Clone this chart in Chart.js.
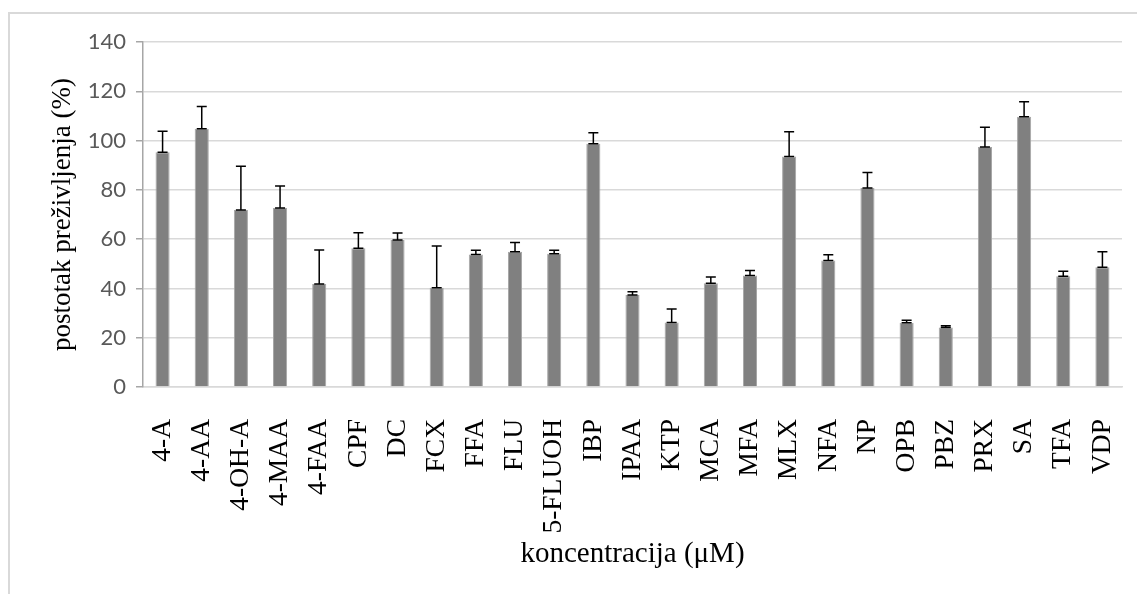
<!DOCTYPE html>
<html>
<head>
<meta charset="utf-8">
<script src="https://cdn.jsdelivr.net/npm/chart.js@4"></script>
<style>
body { margin: 0; background: #fff; }
#frame { position: absolute; left: 8px; top: 12px; width: 1200px; height: 700px; border: 2px solid #d9d9d9; }
#wrap { position: absolute; left: 0; top: 0; width: 1137px; height: 594px; }
</style>
</head>
<body>
<div id="frame"></div>
<div id="wrap"><canvas id="myChart" width="1137" height="594"></canvas></div>
<script>
// Podaci
const labels = ['4-A', '4-AA', '4-OH-A', '4-MAA', '4-FAA', 'CPF', 'DC', 'FCX', 'FFA', 'FLU', '5-FLUOH', 'IBP', 'IPAA', 'KTP', 'MCA', 'MFA', 'MLX', 'NFA', 'NP', 'OPB', 'PBZ', 'PRX', 'SA', 'TFA', 'VDP'];
const preziv = [95.3, 104.8, 71.8, 72.6, 41.8, 56.3, 59.7, 40.3, 53.8, 54.9, 54.1, 98.7, 37.3, 26.2, 42.1, 45.2, 93.5, 51.3, 80.8, 26.1, 24.1, 97.4, 109.7, 44.9, 48.6];
const greske = [8.5, 9.0, 17.8, 9.0, 13.8, 6.3, 2.8, 16.9, 1.7, 3.7, 1.4, 4.5, 1.4, 5.5, 2.5, 2.1, 10.1, 2.4, 6.2, 1.0, 0.8, 8.0, 6.1, 2.1, 6.3];
const yTicks = [0, 20, 40, 60, 80, 100, 120, 140];

const serif = "'Liberation Serif', 'Times New Roman', serif";

// crtanje error barova (samo plus smjer)
const errorBars = {
    id: 'errorBars',
    afterDatasetsDraw(chart) {
        const ctx = chart.ctx;
        const y = chart.scales.y;
        const meta = chart.getDatasetMeta(0);
        ctx.save();
        ctx.strokeStyle = '#000';
        ctx.lineWidth = 1.5;
        meta.data.forEach((bar, i) => {
            const y0 = y.getPixelForValue(preziv[i]);
            const y1 = y.getPixelForValue(preziv[i] + greske[i]);
            const x = bar.x, w = 5;
            ctx.beginPath();
            ctx.moveTo(x, y0); ctx.lineTo(x, y1);
            ctx.moveTo(x - w, y1); ctx.lineTo(x + w, y1);
            ctx.moveTo(x - w, y0); ctx.lineTo(x + w, y0);
            ctx.stroke();
        });
        ctx.restore();
    }
};

const data = {
    labels: labels,
    datasets: [{
        data: preziv,
        backgroundColor: '#808080',
        borderColor: '#a6a6a6',
        borderWidth: 1,
        barPercentage: 0.36,
        categoryPercentage: 1
    }]
};

const config = {
    type: 'bar',
    data: data,
    options: {
        responsive: false,
        animation: false,
        layout: { padding: { left: 0, top: 42, right: 0, bottom: 0 } },
        plugins: { legend: { display: false }, tooltip: { enabled: false } },
        scales: {
            x: {
                grid: { display: false },
                border: { color: '#d9d9d9', width: 1.5 },
                ticks: {
                    autoSkip: false, maxRotation: 90, minRotation: 90, padding: 24,
                    color: '#000', font: { family: serif, size: 27.5 }
                },
                title: {
                    display: true, text: 'koncentracija (μM)', color: '#000',
                    font: { family: serif, size: 29 }, padding: { top: 0, bottom: 22 }
                },
                afterFit(s) { s.height = 207; s.paddingLeft = 0; s.paddingRight = 15; }
            },
            y: {
                min: 0, max: 140,
                afterBuildTicks(s) { s.ticks = yTicks.map(v => ({ value: v })); },
                grid: { color: '#d9d9d9', lineWidth: 1.5, tickColor: '#a6a6a6', tickLength: 7 },
                border: { color: '#a6a6a6', width: 1.5 },
                ticks: { padding: 10, color: '#595959', font: { family: 'Lato', size: 22 } },
                title: {
                    display: true, text: 'postotak preživljenja (%)', color: '#000',
                    font: { family: serif, size: 27 }, padding: { top: 47, bottom: 0 }
                },
                afterFit(s) { s.width = 143; }
            }
        }
    },
    plugins: [errorBars]
};

var myChart = new Chart(document.getElementById('myChart'), config);
</script>
</body>
</html>
